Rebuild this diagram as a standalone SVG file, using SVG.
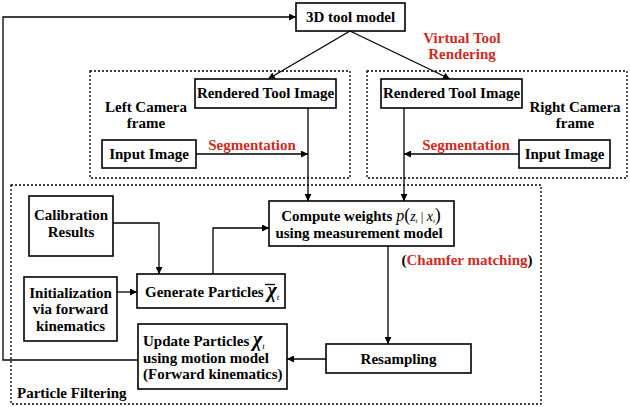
<svg xmlns="http://www.w3.org/2000/svg" width="630" height="407" viewBox="0 0 630 407">
<style>
.box{fill:#fff;stroke:#000;stroke-width:1.6}
.dot{fill:none;stroke:#000;stroke-width:1.3;stroke-dasharray:2 2}
text{font-family:'Liberation Serif','DejaVu Serif',serif;font-weight:bold;font-size:15px;fill:#000}
.t{text-anchor:middle}
.s{text-anchor:start}
.r{fill:#d02a1e}
.ln{fill:none;stroke:#000;stroke-width:1.3;marker-end:url(#ah)}
.m{font-style:italic;font-weight:normal}
.x{font-style:italic;font-weight:bold;font-size:20px}
</style>
<defs>
<marker id="ah" viewBox="0 0 8 8" refX="8" refY="4" markerWidth="7" markerHeight="7" markerUnits="userSpaceOnUse" orient="auto">
<path d="M0,0 L8,4 L0,8 z" fill="#000"/>
</marker>
</defs>
<rect width="630" height="407" fill="#fff"/>
<g id="frames">
<rect class="dot" x="90" y="71" width="260" height="107"/>
<rect class="dot" x="367" y="71" width="260" height="107"/>
<rect class="dot" x="11" y="185" width="530" height="219"/>
</g>
<g id="connectors">
<path class="ln" d="M350,31 L268,79"/>
<path class="ln" d="M350,31 L450,79"/>
<path class="ln" d="M196,154 L308,154"/>
<path class="ln" d="M519,154 L404,154"/>
<path class="ln" d="M308,108 L308,201"/>
<path class="ln" d="M404,108 L404,201"/>
<path class="ln" d="M113,223 L159,223 L159,274"/>
<path class="ln" d="M117,292 L137,292"/>
<path class="ln" d="M213,274 L213,228 L269,228"/>
<path class="ln" d="M388,246 L388,344"/>
<path class="ln" d="M326,359 L287,359"/>
<path class="ln" d="M138,360 L3,360 L3,17 L296,17"/>
</g>
<g id="tool-model"><rect class="box" x="296" y="3" width="109" height="28"/><text class="t" x="350.5" y="22">3D tool model</text></g>
<g id="virtual-label"><text class="t r" x="462" y="43">Virtual Tool</text><text class="t r" x="462" y="59">Rendering</text></g>
<g id="left-rendered"><rect class="box" x="195" y="79" width="141" height="29"/><text class="t" x="265.5" y="98">Rendered Tool Image</text></g>
<g id="left-label"><text class="t" x="146" y="112">Left Camera</text><text class="t" x="146" y="128">frame</text></g>
<g id="left-input"><rect class="box" x="102" y="140" width="94" height="28"/><text class="t" x="149" y="159">Input Image</text></g>
<g id="left-seg"><text class="t r" x="252" y="150">Segmentation</text></g>
<g id="right-rendered"><rect class="box" x="381" y="79" width="141" height="29"/><text class="t" x="451.5" y="98">Rendered Tool Image</text></g>
<g id="right-label"><text class="t" x="575" y="112">Right Camera</text><text class="t" x="575" y="128">frame</text></g>
<g id="right-input"><rect class="box" x="519" y="140" width="91" height="28"/><text class="t" x="564.5" y="159">Input Image</text></g>
<g id="right-seg"><text class="t r" x="466" y="150">Segmentation</text></g>
<g id="calibration"><rect class="box" x="29" y="196" width="84" height="60"/><text class="t" x="71" y="220">Calibration</text><text class="t" x="71" y="237">Results</text></g>
<g id="initialization"><rect class="box" x="24" y="277" width="93" height="64"/><text class="t" x="70.5" y="298">Initialization</text><text class="t" x="70.5" y="314">via forward</text><text class="t" x="70.5" y="331">kinematics</text></g>
<g id="generate"><rect class="box" x="137" y="274" width="148" height="34"/><text class="s" x="145" y="297">Generate Particles <tspan class="x">χ</tspan><tspan class="m" font-size="9" dy="3">t</tspan></text><path d="M265,284.5 H275" stroke="#000" stroke-width="1.3"/></g>
<g id="compute"><rect class="box" x="269" y="201" width="185" height="45"/><text class="t" x="361" y="221">Compute weights <tspan class="m" font-size="16">p</tspan><tspan font-weight="normal" font-size="18">(</tspan><tspan class="m" font-size="14">z</tspan><tspan class="m" font-size="7" dy="2">t</tspan><tspan font-weight="normal" font-size="13" dy="-2"> | </tspan><tspan class="m" font-size="14">x</tspan><tspan class="m" font-size="7" dy="2">t</tspan><tspan font-weight="normal" font-size="18" dy="-2">)</tspan></text><text class="t" x="359" y="238">using measurement model</text></g>
<g id="chamfer"><text class="t" x="467" y="265">(<tspan class="r">Chamfer matching</tspan>)</text></g>
<g id="resampling"><rect class="box" x="326" y="344" width="145" height="29"/><text class="t" x="398.5" y="364">Resampling</text></g>
<g id="update"><rect class="box" x="138" y="324" width="149" height="65"/><text class="s" x="143" y="346">Update Particles <tspan class="x">χ</tspan><tspan class="m" font-size="9" dy="3">t</tspan></text><text class="s" x="143" y="363">using motion model</text><text class="s" x="143" y="379">(Forward kinematics)</text></g>
<g id="pf-label"><text class="s" x="17" y="398">Particle Filtering</text></g>
</svg>
